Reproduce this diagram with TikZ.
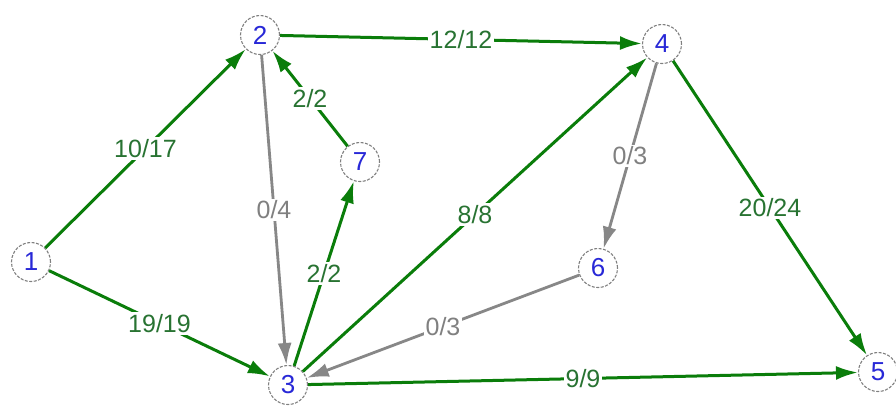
\documentclass[tikz,border=0pt]{standalone}
\usepackage{fontspec}
\setmainfont{Liberation Sans}
\usetikzlibrary{arrows.meta}
\definecolor{edgegreen}{RGB}{10,125,10}
\definecolor{labgreen}{RGB}{40,115,50}
\definecolor{edgegray}{RGB}{135,135,135}
\definecolor{labgray}{RGB}{128,128,128}
\definecolor{numblue}{RGB}{40,40,215}
\tikzset{
  vtx/.style={circle, draw=gray, dash pattern=on 3pt off 1.5pt, line width=1.1pt,
    fill=white, minimum size=39pt, inner sep=0pt, text=numblue,
    font=\fontsize{26}{26}\selectfont},
  flow/.style={draw=edgegreen, line width=3pt, -{Latex[length=22pt,width=14pt]}},
  noflow/.style={draw=edgegray, line width=2.8pt, -{Latex[length=22pt,width=14pt]}},
  glab/.style={fill=white, inner sep=2pt, text=labgreen, font=\fontsize{25}{25}\selectfont},
  ylab/.style={fill=white, inner sep=2pt, text=labgray, font=\fontsize{25}{25}\selectfont}
}
\begin{document}
\begin{tikzpicture}[x=1pt,y=-1pt]
\clip (0,0) rectangle (896,405);
\fill[white] (0,0) rectangle (896,405);
\node[vtx] (n1) at (31,262) {1};
\node[vtx] (n2) at (260,35) {2};
\node[vtx] (n3) at (288,385) {3};
\node[vtx] (n4) at (662,44) {4};
\node[vtx] (n5) at (878,372) {5};
\node[vtx] (n6) at (598,268) {6};
\node[vtx] (n7) at (360,162) {7};
\draw[noflow] (n2) -- node[ylab]{0/4} (n3);
\draw[noflow] (n4) -- node[ylab]{0/3} (n6);
\draw[noflow] (n6) -- node[ylab]{0/3} (n3);
\draw[flow] (n1) -- node[glab]{10/17} (n2);
\draw[flow] (n1) -- node[glab]{19/19} (n3);
\draw[flow] (n2) -- node[glab]{12/12} (n4);
\draw[flow] (n7) -- node[glab]{2/2} (n2);
\draw[flow] (n3) -- node[glab]{2/2} (n7);
\draw[flow] (n3) -- node[glab]{8/8} (n4);
\draw[flow] (n3) -- node[glab]{9/9} (n5);
\draw[flow] (n4) -- node[glab]{20/24} (n5);
\end{tikzpicture}
\end{document}
